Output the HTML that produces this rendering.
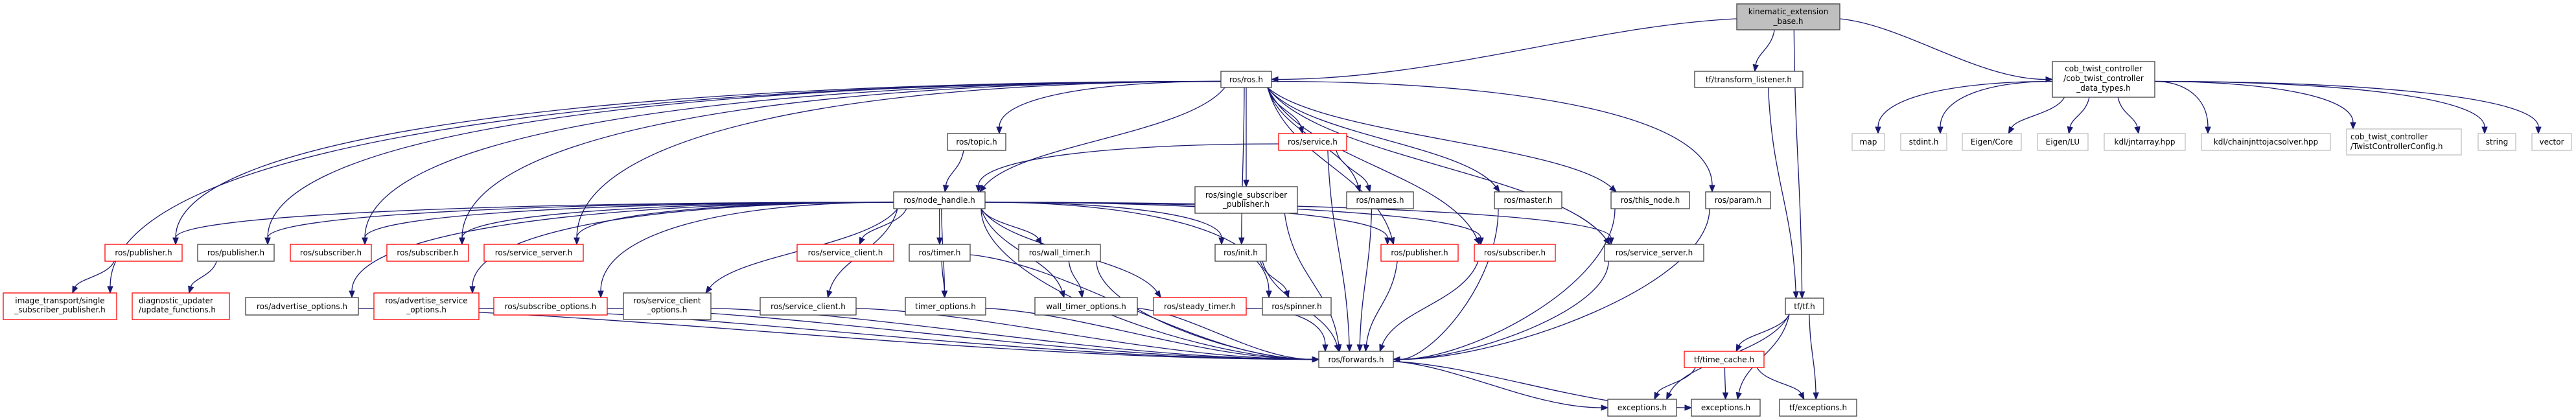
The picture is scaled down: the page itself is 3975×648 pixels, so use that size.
<!DOCTYPE html>
<html><head><meta charset="utf-8">
<style>
html,body{margin:0;padding:0;background:#fff;}
svg{display:block;}
text{font-family:"DejaVu Sans","Liberation Sans",sans-serif;font-size:12px;fill:#000;}
</style></head>
<body>
<svg id="g" xmlns="http://www.w3.org/2000/svg" width="3975" height="648" viewBox="0 0 3975 648">
<g id="edges" fill="none" stroke="#191970" stroke-width="1.3"></g>
<g id="heads" fill="#191970" stroke="#191970" stroke-width="1"></g>
<g id="nodes" stroke-width="1.3">
<rect x="2680" y="6" width="159" height="40" fill="#bfbfbf" stroke="#404040"/>
<text x="2759.5" y="22" text-anchor="middle">kinematic_extension</text>
<text x="2759.5" y="37" text-anchor="middle">_base.h</text>

<rect x="1884" y="110" width="78" height="25" fill="#fff" stroke="#404040"/><text x="1923" y="127" text-anchor="middle">ros/ros.h</text>
<rect x="2615" y="110" width="167" height="25" fill="#fff" stroke="#404040"/><text x="2698.5" y="127" text-anchor="middle">tf/transform_listener.h</text>
<rect x="3167" y="95" width="158" height="55" fill="#fff" stroke="#404040"/>
<text x="3246" y="110" text-anchor="middle">cob_twist_controller</text>
<text x="3246" y="125" text-anchor="middle">/cob_twist_controller</text>
<text x="3246" y="140" text-anchor="middle">_data_types.h</text>

<rect x="1462" y="206" width="90" height="26" fill="#fff" stroke="#404040"/><text x="1507" y="223" text-anchor="middle">ros/topic.h</text>
<rect x="1973" y="206" width="105" height="26" fill="#fff" stroke="#ff0000"/><text x="2025.5" y="223" text-anchor="middle">ros/service.h</text>

<rect x="2858" y="206" width="50" height="26" fill="#fff" stroke="#bfbfbf"/><text x="2883" y="223" text-anchor="middle">map</text>
<rect x="2933" y="206" width="71" height="26" fill="#fff" stroke="#bfbfbf"/><text x="2968.5" y="223" text-anchor="middle">stdint.h</text>
<rect x="3028" y="206" width="91" height="26" fill="#fff" stroke="#bfbfbf"/><text x="3073.5" y="223" text-anchor="middle">Eigen/Core</text>
<rect x="3144" y="206" width="78" height="26" fill="#fff" stroke="#bfbfbf"/><text x="3183" y="223" text-anchor="middle">Eigen/LU</text>
<rect x="3247" y="206" width="125" height="26" fill="#fff" stroke="#bfbfbf"/><text x="3309.5" y="223" text-anchor="middle">kdl/jntarray.hpp</text>
<rect x="3397" y="206" width="199" height="26" fill="#fff" stroke="#bfbfbf"/><text x="3496.5" y="223" text-anchor="middle">kdl/chainjnttojacsolver.hpp</text>
<rect x="3621" y="199" width="177" height="40" fill="#fff" stroke="#bfbfbf"/>
<text x="3627" y="215">cob_twist_controller</text><text x="3627" y="230">/TwistControllerConfig.h</text>
<rect x="3824" y="206" width="58" height="26" fill="#fff" stroke="#bfbfbf"/><text x="3853" y="223" text-anchor="middle">string</text>
<rect x="3907" y="206" width="61" height="26" fill="#fff" stroke="#bfbfbf"/><text x="3937.5" y="223" text-anchor="middle">vector</text>

<rect x="1379" y="296" width="141" height="26" fill="#fff" stroke="#404040"/><text x="1449.5" y="313" text-anchor="middle">ros/node_handle.h</text>
<rect x="1844" y="288" width="158" height="41" fill="#fff" stroke="#404040"/>
<text x="1923" y="305" text-anchor="middle">ros/single_subscriber</text><text x="1923" y="319" text-anchor="middle">_publisher.h</text>
<rect x="2078" y="296" width="103" height="26" fill="#fff" stroke="#404040"/><text x="2129.5" y="313" text-anchor="middle">ros/names.h</text>
<rect x="2306" y="296" width="104" height="26" fill="#fff" stroke="#404040"/><text x="2358" y="313" text-anchor="middle">ros/master.h</text>
<rect x="2486" y="296" width="121" height="26" fill="#fff" stroke="#404040"/><text x="2546.5" y="313" text-anchor="middle">ros/this_node.h</text>
<rect x="2632" y="296" width="100" height="26" fill="#fff" stroke="#404040"/><text x="2682" y="313" text-anchor="middle">ros/param.h</text>

<rect x="162" y="377" width="119" height="26" fill="#fff" stroke="#ff0000"/><text x="221.5" y="394" text-anchor="middle">ros/publisher.h</text>
<rect x="305" y="377" width="118" height="26" fill="#fff" stroke="#404040"/><text x="364" y="394" text-anchor="middle">ros/publisher.h</text>
<rect x="448" y="377" width="125" height="26" fill="#fff" stroke="#ff0000"/><text x="510.5" y="394" text-anchor="middle">ros/subscriber.h</text>
<rect x="597" y="377" width="126" height="26" fill="#fff" stroke="#ff0000"/><text x="660" y="394" text-anchor="middle">ros/subscriber.h</text>
<rect x="747" y="377" width="153" height="26" fill="#fff" stroke="#ff0000"/><text x="823.5" y="394" text-anchor="middle">ros/service_server.h</text>
<rect x="1230" y="377" width="149" height="26" fill="#fff" stroke="#ff0000"/><text x="1304.5" y="394" text-anchor="middle">ros/service_client.h</text>
<rect x="1403" y="377" width="94" height="26" fill="#fff" stroke="#404040"/><text x="1450" y="394" text-anchor="middle">ros/timer.h</text>
<rect x="1572" y="377" width="126" height="26" fill="#fff" stroke="#404040"/><text x="1635" y="394" text-anchor="middle">ros/wall_timer.h</text>
<rect x="1875" y="377" width="79" height="26" fill="#fff" stroke="#404040"/><text x="1914.5" y="394" text-anchor="middle">ros/init.h</text>
<rect x="2131" y="377" width="119" height="26" fill="#fff" stroke="#ff0000"/><text x="2190.5" y="394" text-anchor="middle">ros/publisher.h</text>
<rect x="2275" y="377" width="125" height="26" fill="#fff" stroke="#ff0000"/><text x="2337.5" y="394" text-anchor="middle">ros/subscriber.h</text>
<rect x="2476" y="377" width="153" height="26" fill="#fff" stroke="#404040"/><text x="2552.5" y="394" text-anchor="middle">ros/service_server.h</text>

<rect x="5" y="452" width="175" height="41" fill="#fff" stroke="#ff0000"/>
<text x="92.5" y="468" text-anchor="middle">image_transport/single</text><text x="92.5" y="482" text-anchor="middle">_subscriber_publisher.h</text>
<rect x="204" y="452" width="150" height="41" fill="#fff" stroke="#ff0000"/>
<text x="214" y="468">diagnostic_updater</text><text x="214" y="482">/update_functions.h</text>
<rect x="379" y="459" width="174" height="27" fill="#fff" stroke="#404040"/><text x="466" y="477" text-anchor="middle">ros/advertise_options.h</text>
<rect x="577" y="452" width="162" height="41" fill="#fff" stroke="#ff0000"/>
<text x="658" y="468" text-anchor="middle">ros/advertise_service</text><text x="658" y="482" text-anchor="middle">_options.h</text>
<rect x="762" y="459" width="175" height="27" fill="#fff" stroke="#ff0000"/><text x="849.5" y="477" text-anchor="middle">ros/subscribe_options.h</text>
<rect x="962" y="452" width="135" height="41" fill="#fff" stroke="#404040"/>
<text x="1029.5" y="468" text-anchor="middle">ros/service_client</text><text x="1029.5" y="482" text-anchor="middle">_options.h</text>
<rect x="1173" y="459" width="148" height="27" fill="#fff" stroke="#404040"/><text x="1247" y="477" text-anchor="middle">ros/service_client.h</text>
<rect x="1397" y="459" width="124" height="27" fill="#fff" stroke="#404040"/><text x="1459" y="477" text-anchor="middle">timer_options.h</text>
<rect x="1597" y="459" width="158" height="27" fill="#fff" stroke="#404040"/><text x="1676" y="477" text-anchor="middle">wall_timer_options.h</text>
<rect x="1780" y="459" width="143" height="27" fill="#fff" stroke="#ff0000"/><text x="1851.5" y="477" text-anchor="middle">ros/steady_timer.h</text>
<rect x="1948" y="459" width="106" height="27" fill="#fff" stroke="#404040"/><text x="2001" y="477" text-anchor="middle">ros/spinner.h</text>
<rect x="2755" y="460" width="59" height="25" fill="#fff" stroke="#404040"/><text x="2784.5" y="477" text-anchor="middle">tf/tf.h</text>

<rect x="2035" y="542" width="115" height="25" fill="#fff" stroke="#404040"/><text x="2092.5" y="559" text-anchor="middle">ros/forwards.h</text>
<rect x="2599" y="542" width="123" height="25" fill="#fff" stroke="#ff0000"/><text x="2660.5" y="559" text-anchor="middle">tf/time_cache.h</text>

<rect x="2481" y="616" width="106" height="26" fill="#fff" stroke="#404040"/><text x="2534" y="633" text-anchor="middle">exceptions.h</text>
<rect x="2610" y="616" width="106" height="26" fill="#fff" stroke="#404040"/><text x="2663" y="633" text-anchor="middle">exceptions.h</text>
<rect x="2746" y="616" width="119" height="26" fill="#fff" stroke="#404040"/><text x="2805.5" y="633" text-anchor="middle">tf/exceptions.h</text>
</g>
</svg>
<script>
var N={
kin:[2680,6,2839,46],ros:[1884,110,1962,135],tl:[2615,110,2782,135],cob:[3167,95,3325,150],
topic:[1462,206,1552,232],svc:[1973,206,2078,232],map:[2858,206,2908,232],stdint:[2933,206,3004,232],
core:[3028,206,3119,232],lu:[3144,206,3222,232],jnt:[3247,206,3372,232],chain:[3397,206,3596,232],
cfg:[3621,199,3798,239],str:[3824,206,3882,232],vec:[3907,206,3968,232],
nh:[1379,296,1520,322],ssp:[1844,288,2002,329],names:[2078,296,2181,322],master:[2306,296,2410,322],
thisn:[2486,296,2607,322],param:[2632,296,2732,322],
pubR:[162,377,281,403],pub:[305,377,423,403],subR:[448,377,573,403],subR1:[597,377,723,403],ssR:[747,377,900,403],
scR:[1230,377,1379,403],timer:[1403,377,1497,403],wt:[1572,377,1698,403],init:[1875,377,1954,403],
pubR2:[2131,377,2250,403],subR2:[2275,377,2400,403],ss:[2476,377,2629,403],
img:[5,452,180,493],diag:[204,452,354,493],adv:[379,459,553,486],advs:[577,452,739,493],subo:[762,459,937,486],
sco:[962,452,1097,493],sc:[1173,459,1321,486],topt:[1397,459,1521,486],wto:[1597,459,1755,486],
steady:[1780,459,1923,486],spin:[1948,459,2054,486],tf:[2755,460,2814,485],
fwd:[2035,542,2150,567],tc:[2599,542,2722,567],exc1:[2481,616,2587,642],exc2:[2610,616,2716,642],tfexc:[2746,616,2865,642]};
var E=[
["kin","ros","ts"],["kin","tl"],["kin","tf"],["kin","cob","ts"],
["ros","img"],["ros","pubR"],["ros","pub"],["ros","subR"],["ros","subR1"],["ros","ssR"],["ros","topic"],["ros","nh"],
["ros","svc"],["ros","ssp"],["ros","init"],["ros","names"],["ros","pubR2"],["ros","subR2"],["ros","master"],["ros","ss"],
["ros","thisn"],["ros","param"],
["topic","nh"],["svc","nh"],["svc","names"],["svc","fwd"],
["nh","pubR"],["nh","pub"],["nh","subR"],["nh","subR1"],["nh","ssR"],["nh","scR"],["nh","adv"],["nh","advs"],["nh","subo"],
["nh","sco"],["nh","sc"],["nh","fwd"],["nh","timer"],["nh","topt"],["nh","wt"],["nh","wto"],["nh","steady"],["nh","spin"],
["nh","init"],["nh","pubR2"],["nh","subR2"],["nh","ss"],
["ssp","fwd"],["names","fwd"],["master","fwd"],["thisn","fwd"],["param","fwd"],["pubR2","fwd"],["subR2","fwd"],["ss","fwd"],
["init","fwd"],["init","spin"],["timer","topt"],["timer","fwd"],["wt","wto"],["wt","fwd"],["topt","fwd"],["wto","fwd"],["steady","fwd"],
["adv","fwd"],["advs","fwd"],["subo","fwd"],["sco","fwd"],["sc","fwd"],
["pubR","img"],["pub","diag"],["fwd","exc1","ts"],["fwd","exc2","ts"],["tl","tf"],
["tf","tc"],["tf","exc1"],["tf","exc2"],["tf","tfexc"],["tc","exc1"],["tc","exc2"],["tc","tfexc"],
["cob","map"],["cob","stdint"],["cob","core"],["cob","lu"],["cob","jnt"],["cob","chain"],["cob","cfg"],["cob","str"],["cob","vec"]];
function cl(v,a,b){return Math.max(a,Math.min(b,v));}
var eg=document.getElementById('edges'),hg=document.getElementById('heads'),ep='',hp='';
E.forEach(function(e){
 var s=N[e[0]],t=N[e[1]];
 var scx=(s[0]+s[2])/2,tcx=(t[0]+t[2])/2;
 var dx=tcx-scx,dyv=Math.max(t[1]-s[3],10);
 var sx,sy,tx,ty,c1x,c1y,c2x,c2y;
 var far=Math.abs(dx)>4*dyv;
 if(far){sx=dx<0?s[0]:s[2];sy=(s[1]+s[3])/2+3;}
 else{sx=cl(scx+dx*0.35,s[0]+6,s[2]-6);sy=s[3];}
 var ts=e[2]==='ts'||(e[1]==='fwd'&&Math.abs(dx)>250);
 if(ts){
  tx=dx<0?t[2]:t[0]; ty=(t[1]+t[3])/2;
  if(e[0]!=='kin'){tx=dx<0?t[2]:t[0];}
  if(far){c1x=sx+(tx-sx)*0.3;c1y=sy+(ty-sy)*0.1;}else{c1x=sx;c1y=sy+(ty-sy)*0.5;}
  c2x=tx-(tx-sx)*0.35; c2y=ty;
 }else{
  tx=far?(dx<0?t[2]-10:t[0]+10):cl(tcx-dx*0.15,t[0]+8,t[2]-8); ty=t[1];
  if(far){c1x=sx+(tx-sx)*0.55;c1y=sy;c2x=tx;c2y=sy+(ty-sy)*0.3;}
  else{var d=ty-sy;c1x=sx+(tx-sx)*0.15;c1y=sy+d*0.45;c2x=tx-(tx-sx)*0.15;c2y=ty-d*0.45;}
 }
 var vx=tx-c2x,vy=ty-c2y,L=Math.sqrt(vx*vx+vy*vy)||1;vx/=L;vy/=L;
 var bx=tx-vx*10,by=ty-vy*10,px=-vy*4,py=vx*4;
 ep+='<path d="M'+sx.toFixed(1)+','+sy.toFixed(1)+' C'+c1x.toFixed(1)+','+c1y.toFixed(1)+' '+c2x.toFixed(1)+','+c2y.toFixed(1)+' '+bx.toFixed(1)+','+by.toFixed(1)+'"/>';
 hp+='<polygon points="'+tx.toFixed(1)+','+ty.toFixed(1)+' '+(bx+px).toFixed(1)+','+(by+py).toFixed(1)+' '+(bx-px).toFixed(1)+','+(by-py).toFixed(1)+'"/>';
});
eg.innerHTML=ep;hg.innerHTML=hp;
</script>
</body></html>
